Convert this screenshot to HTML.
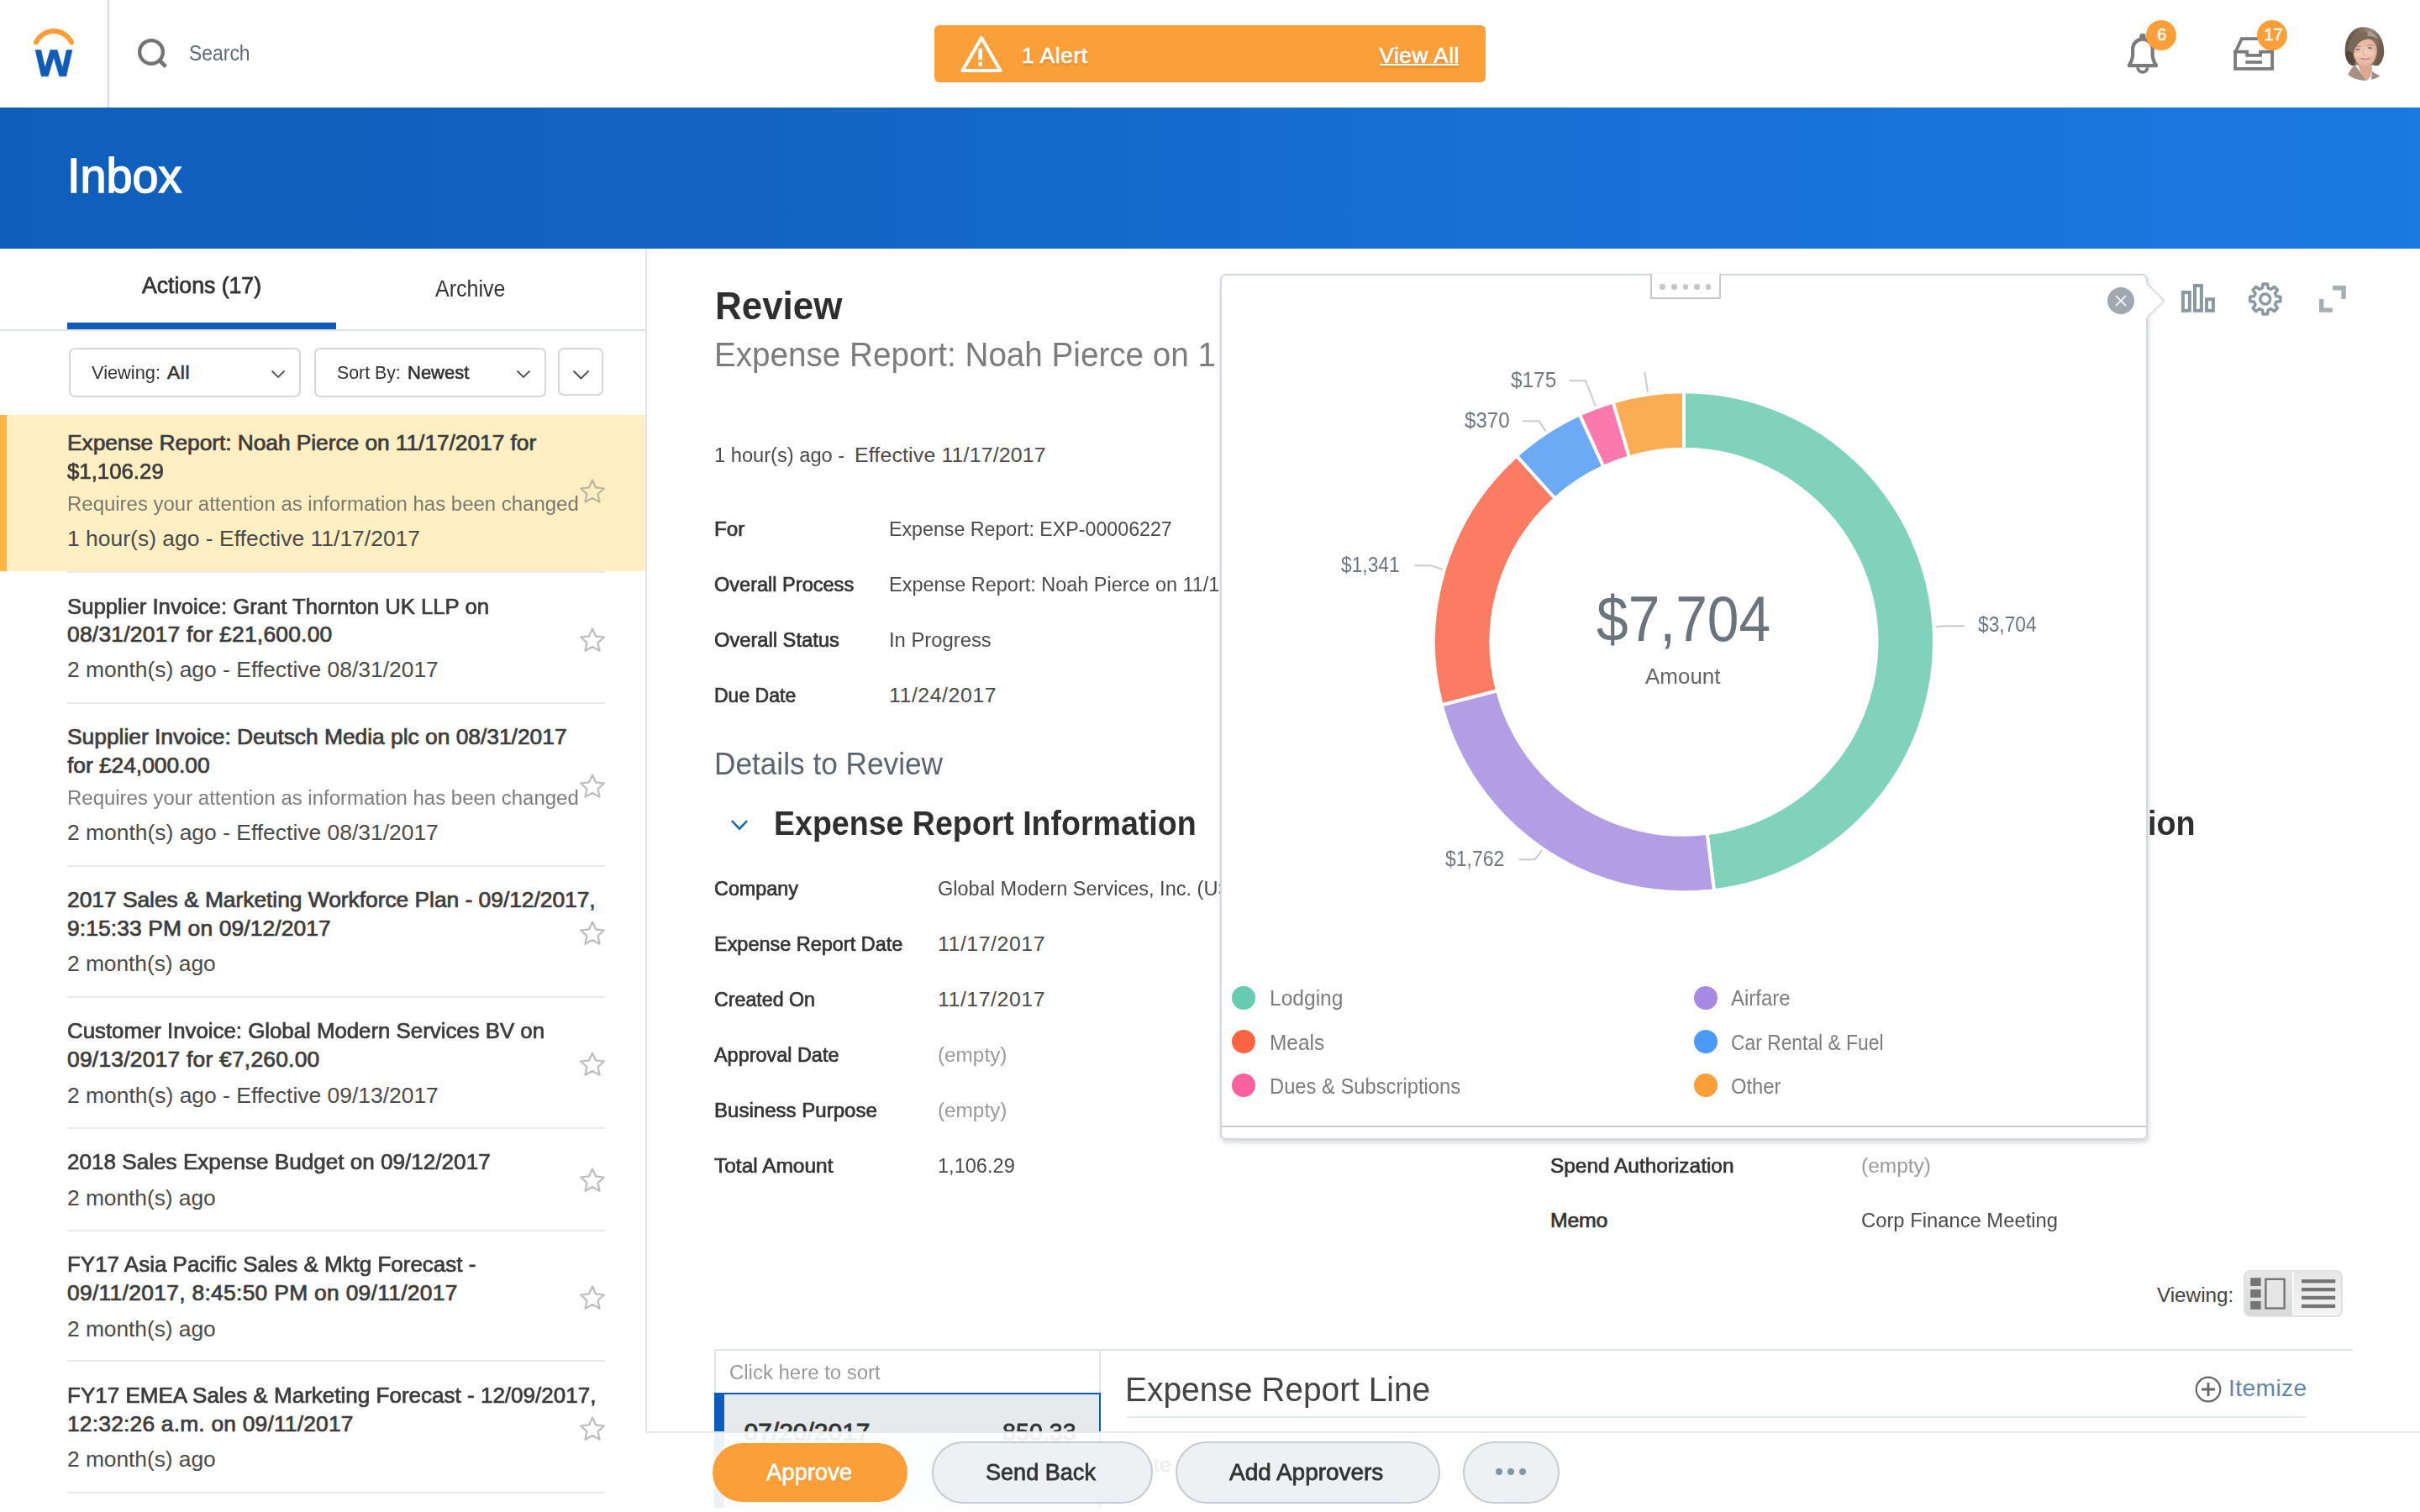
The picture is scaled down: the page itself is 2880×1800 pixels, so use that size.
<!DOCTYPE html>
<html><head><meta charset="utf-8"><title>Inbox</title>
<style>
html,body{margin:0;padding:0;}
body{width:2880px;height:1800px;position:relative;overflow:hidden;background:#fff;font-family:"Liberation Sans",sans-serif;}
.t{position:absolute;white-space:nowrap;transform-origin:0 0;font-family:"Liberation Sans",sans-serif;}
svg{overflow:visible}
</style></head><body>
<div style="position:absolute;left:0px;top:0px;width:2880px;height:128px;background:#fff;"></div>
<div style="position:absolute;left:128px;top:0px;width:2px;height:128px;background:#d3dbe0;"></div>
<svg style="position:absolute;left:36px;top:30px;" width="60" height="66" viewBox="0 0 60 66"><path d="M6.9 20.3 A23.4 23.4 0 0 1 49 20.3" fill="none" stroke="#fb9d35" stroke-width="6" stroke-linecap="round"/><path d="M6.06 29.57 L12.75 29.57 L17.62 50.7 L23.9 29.57 L32.08 29.57 L38.36 50.7 L43.23 29.57 L49.92 29.57 L42.74 60.79 L34.68 60.79 L27.99 38.3 L21.3 60.79 L13.24 60.79 Z" fill="#0f5cb8" stroke="#0f5cb8" stroke-width="0.6" stroke-linejoin="round"/></svg>
<svg style="position:absolute;left:160px;top:42px;" width="44" height="44" viewBox="0 0 44 44"><circle cx="20" cy="19.9" r="13.85" fill="none" stroke="#747474" stroke-width="4.3"/><path d="M29.6 29.5 L37.2 37.3" stroke="#747474" stroke-width="4.7"/></svg>
<span class="t" style="left:224.7px;top:50.8px;font-size:25.87px;line-height:25.87px;color:#5e6a74;transform:scaleX(0.8857);">Search</span>
<div style="position:absolute;left:1112px;top:30px;width:656px;height:68px;background:#fb9f38;border-radius:6px;"></div>
<svg style="position:absolute;left:1140px;top:38px;" width="56" height="52" viewBox="0 0 56 52"><path d="M28 7 L50.5 46 L5.5 46 Z" fill="none" stroke="#fff" stroke-width="4.1" stroke-linejoin="round"/><rect x="24.4" y="19.6" width="4.6" height="13.8" fill="#fff"/><rect x="24.4" y="36" width="4.6" height="4.4" fill="#fff"/></svg>
<span class="t" style="left:1216.0px;top:52.6px;font-size:26.08px;line-height:26.08px;color:#fff;letter-spacing:0.697px;-webkit-text-stroke:0.73px #fff;text-shadow:0 2px 3px rgba(0,0,0,.2);">1 Alert</span>
<span class="t" style="left:1641.5px;top:52.6px;font-size:26.08px;line-height:26.08px;color:#fff;letter-spacing:0.567px;-webkit-text-stroke:0.73px #fff;text-shadow:0 2px 3px rgba(0,0,0,.2);">View All</span>
<div style="position:absolute;left:1642.2px;top:76.2px;width:93.8px;height:2px;background:#fff;box-shadow:0 2px 3px rgba(0,0,0,.18);"></div>
<svg style="position:absolute;left:2526px;top:34px;" width="50" height="60" viewBox="0 0 50 60"><path d="M12.1 24.4 A11.8 11.8 0 0 1 35.7 24.4 L35.7 31 C35.7 36.5 37.3 39.5 40 44.1 L7.8 44.1 C10.5 39.5 12.1 36.5 12.1 31 Z" fill="none" stroke="#7b7b7b" stroke-width="4.2" stroke-linejoin="round"/><circle cx="23.9" cy="9.6" r="3.8" fill="#7b7b7b"/><path d="M18.2 46.2 A5.7 5.7 0 0 0 29.6 46.2" fill="none" stroke="#7b7b7b" stroke-width="3.8"/></svg>
<div style="position:absolute;left:2554.2px;top:23.7px;width:36px;height:36px;background:#fb9f38;border-radius:50%;"></div>
<span class="t" style="left:2567.3px;top:32.3px;font-size:19.66px;line-height:19.66px;color:#fff;-webkit-text-stroke:0.55px #fff;">6</span>
<svg style="position:absolute;left:2654px;top:40px;" width="56" height="48" viewBox="0 0 56 48"><path d="M6.1 21.7 L6.1 41.8 L50.2 41.8 L50.2 21.7" fill="none" stroke="#7b7b7b" stroke-width="3.8"/><path d="M6.1 22.5 L13.8 6.1 L42.5 6.1 L50.2 22.5" fill="none" stroke="#7b7b7b" stroke-width="3.8" stroke-linejoin="miter"/><path d="M4.2 21.7 L20.2 21.7 L20.2 25.8 L36.1 25.8 L36.1 21.7 L52.1 21.7" fill="none" stroke="#7b7b7b" stroke-width="3.8"/><path d="M18.3 34 L38 34" stroke="#7b7b7b" stroke-width="3.7"/></svg>
<div style="position:absolute;left:2686.2px;top:23.7px;width:36px;height:36px;background:#fb9f38;border-radius:50%;"></div>
<span class="t" style="left:2694.6px;top:32.3px;font-size:19.66px;line-height:19.66px;color:#fff;letter-spacing:0.335px;-webkit-text-stroke:0.55px #fff;">17</span>
<svg style="position:absolute;left:2782px;top:28px;" width="64" height="72" viewBox="0 0 64 72"><defs><clipPath id="av"><circle cx="32.3" cy="35.5" r="32.4"/></clipPath><filter id="bl" x="-10%" y="-10%" width="120%" height="120%"><feGaussianBlur stdDeviation="0.7"/></filter><linearGradient id="hg" x1="0" y1="0" x2="1" y2="0.3"><stop offset="0" stop-color="#54443a"/><stop offset="0.35" stop-color="#7d6b59"/><stop offset="0.62" stop-color="#9a8c7c"/><stop offset="1" stop-color="#6e5c4c"/></linearGradient><radialGradient id="fg" cx="0.5" cy="0.5" r="0.6"><stop offset="0" stop-color="#f3cfbd"/><stop offset="0.7" stop-color="#e7b7a0"/><stop offset="1" stop-color="#d49d86"/></radialGradient></defs><g clip-path="url(#av)" filter="url(#bl)"><path d="M8 40 L20 49 L24 52 L40 52 L44 58 L62 40 L62 72 L2 72 Z" fill="#fff"/><path d="M10 66 C12 60 15 56 17.5 52 L21 50 C25 55 30 62 35 68 L34 72 L8 72 Z" fill="#a89088"/><path d="M41 57 C44 59 48 61 51 63 L46 70 L40 68 Z" fill="#a38b82"/><path d="M24 48 C25 54 28 60 34 68 C38 66 40 62 41 57 L40 46 Z" fill="#dca88f"/><path d="M31 4.2 C19 3.8 10.5 14 9 28 C7.6 38 11 46 16 49.5 C18.5 51 21 51 22.5 49.5 L43 49.5 C45 51 48.5 50.5 50 48.5 C54 44 55.6 38 55.2 32 C54.5 16 46 4.8 31 4.2Z" fill="url(#hg)"/><path d="M9.2 34 C9 42 12 48 17 50 C20 50.6 21.5 48 21 44 C19 40 18 36 18.5 31 Z" fill="#4a3a30" opacity="0.75"/><path d="M18.2 33 C18 24 23 18.5 31 17.2 C40 17 46.8 23 46.8 32 C46.8 41 41 51.5 33 51.8 C25 52 18.6 42 18.2 33Z" fill="url(#fg)"/><path d="M13 30 C13 16 24 8 38 11 C44 12.5 48 17 49.5 23 C45 18.5 39 17.5 33 19 C25 21 20.5 27 19 36 C16 35 13.5 33 13 30Z" fill="#7a6856"/><path d="M36 9.5 C41 10 45.5 13.5 47.5 18.5 C43.5 15.5 39.5 14.5 35.5 15Z" fill="#b3a89c" opacity="0.85"/><ellipse cx="24" cy="30.9" rx="2.5" ry="1.1" fill="#6f6273" opacity="0.8"/><ellipse cx="38.4" cy="29.2" rx="2.6" ry="1.1" fill="#6f6273" opacity="0.8"/><path d="M20.5 28.3 C23 26.8 26 26.9 28 27.8 M34.5 26.6 C37 25.3 40.5 25.3 42.8 26.8" stroke="#8a6f60" stroke-width="0.9" fill="none" opacity="0.8"/><path d="M31 30 C30.5 34 30 36 30.8 37.5 C32 38.3 34 38.2 35 37.3" stroke="#cf9a82" stroke-width="1" fill="none" opacity="0.7"/><ellipse cx="23.5" cy="37" rx="3.6" ry="2.6" fill="#f6d9cd" opacity="0.45"/><ellipse cx="40.5" cy="35.5" rx="3.4" ry="2.5" fill="#f6d9cd" opacity="0.45"/><path d="M26.3 40.8 C29.5 44.6 36.5 44.4 39.6 40.2 C35.5 41.6 30.5 41.9 26.3 40.8Z" fill="#c56a86"/><path d="M28 41.4 C31 42.4 35 42.2 38 41 C35 42.9 31 43.1 28 41.4Z" fill="#f1dfe2" opacity="0.8"/></g></svg>
<div style="position:absolute;left:0px;top:128px;width:2880px;height:168px;background:linear-gradient(90deg,#0f5ebb 0%,#1263c3 30%,#176fd3 60%,#1a79e2 100%);"></div>
<span class="t" style="left:80.2px;top:182.3px;font-size:56.51px;line-height:56.51px;color:#fff;transform:scaleX(0.9871);-webkit-text-stroke:1.5px #fff;">Inbox</span>
<div style="position:absolute;left:768px;top:296px;width:2px;height:1409px;background:#dfe4e8;"></div>
<span class="t" style="left:168.6px;top:326.5px;font-size:26.91px;line-height:26.91px;color:#333;transform:scaleX(0.9891);-webkit-text-stroke:0.75px #333;">Actions (17)</span>
<span class="t" style="left:518.0px;top:330.1px;font-size:27.43px;line-height:27.43px;color:#333;transform:scaleX(0.9131);">Archive</span>
<div style="position:absolute;left:0px;top:392px;width:768px;height:2px;background:#dde2e6;"></div>
<div style="position:absolute;left:80px;top:384px;width:320px;height:8px;background:#0f5cb8;"></div>
<div style="position:absolute;left:82px;top:414px;width:276px;height:59px;box-sizing:border-box;border:2px solid #d3d7da;border-radius:7px;background:#fff;"></div>
<div style="position:absolute;left:374px;top:414px;width:276px;height:59px;box-sizing:border-box;border:2px solid #d3d7da;border-radius:7px;background:#fff;"></div>
<div style="position:absolute;left:664px;top:414px;width:54px;height:57px;box-sizing:border-box;border:2px solid #d3d7da;border-radius:7px;background:#fff;"></div>
<span class="t" style="left:108.5px;top:431.6px;font-size:22.77px;line-height:22.77px;color:#333;transform:scaleX(0.9574);">Viewing:</span>
<span class="t" style="left:199.0px;top:431.6px;font-size:22.77px;line-height:22.77px;color:#333;letter-spacing:0.603px;-webkit-text-stroke:0.64px #333;">All</span>
<span class="t" style="left:400.5px;top:431.6px;font-size:22.77px;line-height:22.77px;color:#333;transform:scaleX(0.9361);">Sort By:</span>
<span class="t" style="left:484.5px;top:431.6px;font-size:22.77px;line-height:22.77px;color:#333;transform:scaleX(0.9663);-webkit-text-stroke:0.64px #333;">Newest</span>
<svg style="position:absolute;left:322px;top:440px;" width="18" height="11" viewBox="0 0 18 11"><path d="M1.5 1.5 L9 9 L16.5 1.5" fill="none" stroke="#555" stroke-width="1.9"/></svg>
<svg style="position:absolute;left:614px;top:440px;" width="18" height="11" viewBox="0 0 18 11"><path d="M1.5 1.5 L9 9 L16.5 1.5" fill="none" stroke="#555" stroke-width="1.9"/></svg>
<svg style="position:absolute;left:680.5px;top:439.5px;" width="21" height="13" viewBox="0 0 21 13"><path d="M1.5 1.5 L10.5 10.5 L19.5 1.5" fill="none" stroke="#555" stroke-width="2"/></svg>
<div style="position:absolute;left:0px;top:494px;width:768px;height:186px;background:#ffefc3;"></div>
<div style="position:absolute;left:0px;top:494px;width:8px;height:186px;background:#fdb447;"></div>
<span class="t" style="left:80.0px;top:514.1px;font-size:26.39px;line-height:26.39px;color:#3c3c3c;letter-spacing:-0.066px;-webkit-text-stroke:0.74px #3c3c3c;">Expense Report: Noah Pierce on 11/17/2017 for</span>
<span class="t" style="left:80.0px;top:547.9px;font-size:26.39px;line-height:26.39px;color:#3c3c3c;transform:scaleX(0.9777);-webkit-text-stroke:0.74px #3c3c3c;">$1,106.29</span>
<span class="t" style="left:80.0px;top:588.1px;font-size:24.32px;line-height:24.32px;color:#7b786f;transform:scaleX(0.9855);">Requires your attention as information has been changed</span>
<span class="t" style="left:80.0px;top:628.4px;font-size:26.39px;line-height:26.39px;color:#4a4a4a;letter-spacing:0.047px;">1 hour(s) ago - Effective 11/17/2017</span>
<svg style="position:absolute;left:684.9px;top:566.3943px;" width="40" height="40" viewBox="0 0 40 40"><path d="M20.00 5.40 L24.03 14.45 L33.89 15.49 L26.53 22.12 L28.58 31.81 L20.00 26.86 L11.42 31.81 L13.47 22.12 L6.11 15.49 L15.97 14.45 Z" fill="none" stroke="rgba(135,135,135,0.55)" stroke-width="2.2" stroke-linejoin="round"/></svg>
<div style="position:absolute;left:80px;top:680px;width:640px;height:2px;background:#e9ebec;"></div>
<span class="t" style="left:80.0px;top:708.6px;font-size:26.39px;line-height:26.39px;color:#3c3c3c;transform:scaleX(0.9745);-webkit-text-stroke:0.74px #3c3c3c;">Supplier Invoice: Grant Thornton UK LLP on</span>
<span class="t" style="left:80.0px;top:742.3px;font-size:26.39px;line-height:26.39px;color:#3c3c3c;letter-spacing:0.243px;-webkit-text-stroke:0.74px #3c3c3c;">08/31/2017 for £21,600.00</span>
<span class="t" style="left:80.0px;top:784.0px;font-size:26.39px;line-height:26.39px;color:#4a4a4a;letter-spacing:0.026px;">2 month(s) ago - Effective 08/31/2017</span>
<svg style="position:absolute;left:684.9px;top:743.0943000000001px;" width="40" height="40" viewBox="0 0 40 40"><path d="M20.00 5.40 L24.03 14.45 L33.89 15.49 L26.53 22.12 L28.58 31.81 L20.00 26.86 L11.42 31.81 L13.47 22.12 L6.11 15.49 L15.97 14.45 Z" fill="none" stroke="rgba(135,135,135,0.55)" stroke-width="2.2" stroke-linejoin="round"/></svg>
<div style="position:absolute;left:80px;top:836px;width:640px;height:2px;background:#e9ebec;"></div>
<span class="t" style="left:80.0px;top:864.1px;font-size:26.39px;line-height:26.39px;color:#3c3c3c;letter-spacing:-0.015px;-webkit-text-stroke:0.74px #3c3c3c;">Supplier Invoice: Deutsch Media plc on 08/31/2017</span>
<span class="t" style="left:80.0px;top:898.1px;font-size:26.39px;line-height:26.39px;color:#3c3c3c;letter-spacing:-0.038px;-webkit-text-stroke:0.74px #3c3c3c;">for £24,000.00</span>
<span class="t" style="left:80.0px;top:938.3px;font-size:24.32px;line-height:24.32px;color:#7d7d7d;transform:scaleX(0.9855);">Requires your attention as information has been changed</span>
<span class="t" style="left:80.0px;top:977.6px;font-size:26.39px;line-height:26.39px;color:#4a4a4a;letter-spacing:0.026px;">2 month(s) ago - Effective 08/31/2017</span>
<svg style="position:absolute;left:684.9px;top:916.8943px;" width="40" height="40" viewBox="0 0 40 40"><path d="M20.00 5.40 L24.03 14.45 L33.89 15.49 L26.53 22.12 L28.58 31.81 L20.00 26.86 L11.42 31.81 L13.47 22.12 L6.11 15.49 L15.97 14.45 Z" fill="none" stroke="rgba(135,135,135,0.55)" stroke-width="2.2" stroke-linejoin="round"/></svg>
<div style="position:absolute;left:80px;top:1030px;width:640px;height:2px;background:#e9ebec;"></div>
<span class="t" style="left:80.0px;top:1057.7px;font-size:26.39px;line-height:26.39px;color:#3c3c3c;letter-spacing:-0.025px;-webkit-text-stroke:0.74px #3c3c3c;">2017 Sales &amp; Marketing Workforce Plan - 09/12/2017,</span>
<span class="t" style="left:80.0px;top:1092.1px;font-size:26.39px;line-height:26.39px;color:#3c3c3c;letter-spacing:0.126px;-webkit-text-stroke:0.74px #3c3c3c;">9:15:33 PM on 09/12/2017</span>
<span class="t" style="left:80.0px;top:1134.3px;font-size:26.39px;line-height:26.39px;color:#4a4a4a;letter-spacing:-0.054px;">2 month(s) ago</span>
<svg style="position:absolute;left:684.9px;top:1092.3943px;" width="40" height="40" viewBox="0 0 40 40"><path d="M20.00 5.40 L24.03 14.45 L33.89 15.49 L26.53 22.12 L28.58 31.81 L20.00 26.86 L11.42 31.81 L13.47 22.12 L6.11 15.49 L15.97 14.45 Z" fill="none" stroke="rgba(135,135,135,0.55)" stroke-width="2.2" stroke-linejoin="round"/></svg>
<div style="position:absolute;left:80px;top:1186px;width:640px;height:2px;background:#e9ebec;"></div>
<span class="t" style="left:80.0px;top:1213.7px;font-size:26.39px;line-height:26.39px;color:#3c3c3c;transform:scaleX(0.9785);-webkit-text-stroke:0.74px #3c3c3c;">Customer Invoice: Global Modern Services BV on</span>
<span class="t" style="left:80.0px;top:1247.7px;font-size:26.39px;line-height:26.39px;color:#3c3c3c;letter-spacing:0.238px;-webkit-text-stroke:0.74px #3c3c3c;">09/13/2017 for €7,260.00</span>
<span class="t" style="left:80.0px;top:1290.7px;font-size:26.39px;line-height:26.39px;color:#4a4a4a;letter-spacing:0.026px;">2 month(s) ago - Effective 09/13/2017</span>
<svg style="position:absolute;left:684.9px;top:1248.3943px;" width="40" height="40" viewBox="0 0 40 40"><path d="M20.00 5.40 L24.03 14.45 L33.89 15.49 L26.53 22.12 L28.58 31.81 L20.00 26.86 L11.42 31.81 L13.47 22.12 L6.11 15.49 L15.97 14.45 Z" fill="none" stroke="rgba(135,135,135,0.55)" stroke-width="2.2" stroke-linejoin="round"/></svg>
<div style="position:absolute;left:80px;top:1341.5px;width:640px;height:2px;background:#e9ebec;"></div>
<span class="t" style="left:80.0px;top:1369.5px;font-size:26.39px;line-height:26.39px;color:#3c3c3c;transform:scaleX(0.9898);-webkit-text-stroke:0.74px #3c3c3c;">2018 Sales Expense Budget on 09/12/2017</span>
<span class="t" style="left:80.0px;top:1412.7px;font-size:26.39px;line-height:26.39px;color:#4a4a4a;letter-spacing:-0.054px;">2 month(s) ago</span>
<svg style="position:absolute;left:684.9px;top:1386.1942999999999px;" width="40" height="40" viewBox="0 0 40 40"><path d="M20.00 5.40 L24.03 14.45 L33.89 15.49 L26.53 22.12 L28.58 31.81 L20.00 26.86 L11.42 31.81 L13.47 22.12 L6.11 15.49 L15.97 14.45 Z" fill="none" stroke="rgba(135,135,135,0.55)" stroke-width="2.2" stroke-linejoin="round"/></svg>
<div style="position:absolute;left:80px;top:1463.5px;width:640px;height:2px;background:#e9ebec;"></div>
<span class="t" style="left:80.0px;top:1491.6px;font-size:26.39px;line-height:26.39px;color:#3c3c3c;transform:scaleX(0.9845);-webkit-text-stroke:0.74px #3c3c3c;">FY17 Asia Pacific Sales &amp; Mktg Forecast -</span>
<span class="t" style="left:80.0px;top:1526.0px;font-size:26.39px;line-height:26.39px;color:#3c3c3c;letter-spacing:0.310px;-webkit-text-stroke:0.74px #3c3c3c;">09/11/2017, 8:45:50 PM on 09/11/2017</span>
<span class="t" style="left:80.0px;top:1568.5px;font-size:26.39px;line-height:26.39px;color:#4a4a4a;letter-spacing:-0.054px;">2 month(s) ago</span>
<svg style="position:absolute;left:684.9px;top:1526.3943px;" width="40" height="40" viewBox="0 0 40 40"><path d="M20.00 5.40 L24.03 14.45 L33.89 15.49 L26.53 22.12 L28.58 31.81 L20.00 26.86 L11.42 31.81 L13.47 22.12 L6.11 15.49 L15.97 14.45 Z" fill="none" stroke="rgba(135,135,135,0.55)" stroke-width="2.2" stroke-linejoin="round"/></svg>
<div style="position:absolute;left:80px;top:1619.4px;width:640px;height:2px;background:#e9ebec;"></div>
<span class="t" style="left:80.0px;top:1647.7px;font-size:26.39px;line-height:26.39px;color:#3c3c3c;transform:scaleX(0.9870);-webkit-text-stroke:0.74px #3c3c3c;">FY17 EMEA Sales &amp; Marketing Forecast - 12/09/2017,</span>
<span class="t" style="left:80.0px;top:1681.7px;font-size:26.39px;line-height:26.39px;color:#3c3c3c;letter-spacing:0.198px;-webkit-text-stroke:0.74px #3c3c3c;">12:32:26 a.m. on 09/11/2017</span>
<span class="t" style="left:80.0px;top:1724.2px;font-size:26.39px;line-height:26.39px;color:#4a4a4a;letter-spacing:-0.054px;">2 month(s) ago</span>
<svg style="position:absolute;left:684.9px;top:1682.1942999999999px;" width="40" height="40" viewBox="0 0 40 40"><path d="M20.00 5.40 L24.03 14.45 L33.89 15.49 L26.53 22.12 L28.58 31.81 L20.00 26.86 L11.42 31.81 L13.47 22.12 L6.11 15.49 L15.97 14.45 Z" fill="none" stroke="rgba(135,135,135,0.55)" stroke-width="2.2" stroke-linejoin="round"/></svg>
<div style="position:absolute;left:80px;top:1775.7px;width:640px;height:2px;background:#e9ebec;"></div>
<span class="t" style="left:850.6px;top:340.4px;font-size:47.09px;line-height:47.09px;color:#2f2f2f;font-weight:bold;transform:scaleX(0.9335);">Review</span>
<div style="position:absolute;left:840px;top:380px;width:613px;height:90px;overflow:hidden;">
<span class="t" style="left:10.0px;top:22.8px;font-size:39.95px;line-height:39.95px;color:#7c7c7c;transform:scaleX(0.9673);">Expense Report: Noah Pierce on 1</span>
</div>
<span class="t" style="left:850.0px;top:529.9px;font-size:24.84px;line-height:24.84px;color:#4a4a4a;transform:scaleX(0.9527);">1 hour(s) ago -</span>
<span class="t" style="left:1017.0px;top:529.9px;font-size:24.84px;line-height:24.84px;color:#4a4a4a;letter-spacing:0.181px;">Effective 11/17/2017</span>
<span class="t" style="left:850.0px;top:617.9px;font-size:24.84px;line-height:24.84px;color:#333;transform:scaleX(0.9777);-webkit-text-stroke:0.70px #333;">For</span>
<span class="t" style="left:1058.0px;top:617.9px;font-size:24.84px;line-height:24.84px;color:#4a4a4a;transform:scaleX(0.9348);">Expense Report: EXP-00006227</span>
<span class="t" style="left:850.0px;top:683.9px;font-size:24.84px;line-height:24.84px;color:#333;transform:scaleX(0.9482);-webkit-text-stroke:0.70px #333;">Overall Process</span>
<div style="position:absolute;left:1050px;top:670px;width:403px;height:50px;overflow:hidden;">
<span class="t" style="left:8.0px;top:13.9px;font-size:24.84px;line-height:24.84px;color:#4a4a4a;transform:scaleX(0.9449);">Expense Report: Noah Pierce on 11/1</span>
</div>
<span class="t" style="left:850.0px;top:749.7px;font-size:24.84px;line-height:24.84px;color:#333;transform:scaleX(0.9538);-webkit-text-stroke:0.70px #333;">Overall Status</span>
<span class="t" style="left:1058.0px;top:749.7px;font-size:24.84px;line-height:24.84px;color:#4a4a4a;transform:scaleX(0.9592);">In Progress</span>
<span class="t" style="left:850.0px;top:815.6px;font-size:24.84px;line-height:24.84px;color:#333;transform:scaleX(0.9269);-webkit-text-stroke:0.70px #333;">Due Date</span>
<span class="t" style="left:1058.0px;top:815.6px;font-size:24.84px;line-height:24.84px;color:#4a4a4a;letter-spacing:0.560px;">11/24/2017</span>
<span class="t" style="left:850.0px;top:892.4px;font-size:36.74px;line-height:36.74px;color:#5a6570;transform:scaleX(0.9585);">Details to Review</span>
<svg style="position:absolute;left:866px;top:973px;" width="28" height="18" viewBox="0 0 28 18"><path d="M4.8 4 L14 13.7 L23.2 4" fill="none" stroke="#0b62c8" stroke-width="2.5"/></svg>
<span class="t" style="left:921.0px;top:960.3px;font-size:40.88px;line-height:40.88px;color:#2f2f2f;font-weight:bold;transform:scaleX(0.9182);">Expense Report Information</span>
<span class="t" style="left:2555.8px;top:960.3px;font-size:40.88px;line-height:40.88px;color:#2f2f2f;font-weight:bold;transform:scaleX(0.9231);">ion</span>
<span class="t" style="left:850.0px;top:1046.2px;font-size:24.84px;line-height:24.84px;color:#333;transform:scaleX(0.9412);-webkit-text-stroke:0.70px #333;">Company</span>
<div style="position:absolute;left:1100px;top:1032px;width:353px;height:50px;overflow:hidden;">
<span class="t" style="left:16.0px;top:14.2px;font-size:24.84px;line-height:24.84px;color:#4a4a4a;transform:scaleX(0.9475);">Global Modern Services, Inc. (USA)</span>
</div>
<span class="t" style="left:850.0px;top:1111.9px;font-size:24.84px;line-height:24.84px;color:#333;transform:scaleX(0.9447);-webkit-text-stroke:0.70px #333;">Expense Report Date</span>
<span class="t" style="left:1116.0px;top:1111.9px;font-size:24.84px;line-height:24.84px;color:#4a4a4a;letter-spacing:0.560px;">11/17/2017</span>
<span class="t" style="left:850.0px;top:1177.9px;font-size:24.84px;line-height:24.84px;color:#333;transform:scaleX(0.9350);-webkit-text-stroke:0.70px #333;">Created On</span>
<span class="t" style="left:1116.0px;top:1177.9px;font-size:24.84px;line-height:24.84px;color:#4a4a4a;letter-spacing:0.560px;">11/17/2017</span>
<span class="t" style="left:850.0px;top:1243.9px;font-size:24.84px;line-height:24.84px;color:#333;transform:scaleX(0.9434);-webkit-text-stroke:0.70px #333;">Approval Date</span>
<span class="t" style="left:1116.0px;top:1243.9px;font-size:24.84px;line-height:24.84px;color:#9a9a9a;transform:scaleX(0.9790);">(empty)</span>
<span class="t" style="left:850.0px;top:1309.7px;font-size:24.84px;line-height:24.84px;color:#333;transform:scaleX(0.9685);-webkit-text-stroke:0.70px #333;">Business Purpose</span>
<span class="t" style="left:1116.0px;top:1309.7px;font-size:24.84px;line-height:24.84px;color:#9a9a9a;transform:scaleX(0.9790);">(empty)</span>
<span class="t" style="left:850.0px;top:1375.6px;font-size:24.84px;line-height:24.84px;color:#333;transform:scaleX(0.9856);-webkit-text-stroke:0.70px #333;">Total Amount</span>
<span class="t" style="left:1116.0px;top:1375.6px;font-size:24.84px;line-height:24.84px;color:#4a4a4a;transform:scaleX(0.9493);">1,106.29</span>
<span class="t" style="left:1845.0px;top:1375.6px;font-size:24.84px;line-height:24.84px;color:#333;transform:scaleX(0.9832);-webkit-text-stroke:0.70px #333;">Spend Authorization</span>
<span class="t" style="left:2215.0px;top:1375.6px;font-size:24.84px;line-height:24.84px;color:#9a9a9a;transform:scaleX(0.9852);">(empty)</span>
<span class="t" style="left:1845.0px;top:1441.2px;font-size:24.84px;line-height:24.84px;color:#333;letter-spacing:-0.183px;-webkit-text-stroke:0.70px #333;">Memo</span>
<span class="t" style="left:2215.0px;top:1441.2px;font-size:24.84px;line-height:24.84px;color:#4a4a4a;transform:scaleX(0.9579);">Corp Finance Meeting</span>
<span class="t" style="left:2567.0px;top:1530.0px;font-size:24.32px;line-height:24.32px;color:#444;letter-spacing:-0.033px;">Viewing:</span>
<div style="position:absolute;left:2670px;top:1512px;width:118px;height:56px;box-sizing:border-box;border:2px solid #e2e2e2;border-radius:8px;background:linear-gradient(#e7e7e7,#f3f4f4);overflow:hidden;"><div style="position:absolute;left:-2px;top:-2px;width:60px;height:58px;background:linear-gradient(#e8e8e8,#d6d8d9);"></div><div style="position:absolute;left:56px;top:-2px;width:2.4px;height:58px;background:#fafafa;"></div></div>
<svg style="position:absolute;left:2676px;top:1518px;" width="50" height="44" viewBox="0 0 50 44"><rect x="2.2" y="3.2" width="12.5" height="9.8" fill="#757575"/><rect x="2.2" y="17.1" width="12.5" height="9.6" fill="#757575"/><rect x="2.2" y="31" width="12.5" height="9.8" fill="#757575"/><rect x="20.4" y="4.8" width="22.2" height="34.7" fill="#e6e6e6" stroke="#757575" stroke-width="2.4"/></svg>
<svg style="position:absolute;left:2736px;top:1518px;" width="50" height="44" viewBox="0 0 50 44"><rect x="3" y="5.1" width="40.2" height="4.3" fill="#757575"/><rect x="3" y="15" width="40.2" height="4.3" fill="#757575"/><rect x="3" y="24.8" width="40.2" height="4.3" fill="#757575"/><rect x="3" y="34.8" width="40.2" height="4.3" fill="#757575"/></svg>
<div style="position:absolute;left:850px;top:1606px;width:1950px;height:2px;background:#dde4e8;"></div>
<div style="position:absolute;left:850px;top:1606px;width:2px;height:191px;background:#dde4e8;"></div>
<div style="position:absolute;left:850px;top:1795px;width:460px;height:2px;background:#dde4e8;"></div>
<div style="position:absolute;left:1308px;top:1606px;width:2px;height:191px;background:#dde4e8;"></div>
<span class="t" style="left:868.0px;top:1621.9px;font-size:24.84px;line-height:24.84px;color:#9a9a9a;transform:scaleX(0.9647);">Click here to sort</span>
<div style="position:absolute;left:850px;top:1658px;width:460px;height:137px;box-sizing:border-box;background:#e6eaec;border-top:2.5px solid #0b5cbf;border-right:2.5px solid #0b5cbf;border-left:12px solid #0b5cbf;"></div>
<span class="t" style="left:885.5px;top:1690.0px;font-size:30.01px;line-height:30.01px;color:#333;letter-spacing:-0.011px;-webkit-text-stroke:0.84px #333;">07/20/2017</span>
<span class="t" style="left:1192.5px;top:1690.0px;font-size:30.01px;line-height:30.01px;color:#333;transform:scaleX(0.9565);-webkit-text-stroke:0.84px #333;">850.33</span>
<span class="t" style="left:1339.0px;top:1633.5px;font-size:40.36px;line-height:40.36px;color:#444;transform:scaleX(0.9637);">Expense Report Line</span>
<div style="position:absolute;left:1341px;top:1686px;width:1403px;height:2px;background:#e2e8eb;"></div>
<svg style="position:absolute;left:2611px;top:1637px;" width="34" height="34" viewBox="0 0 34 34"><circle cx="17" cy="17" r="14.3" fill="none" stroke="#666" stroke-width="2.2"/><path d="M17 9 L17 25 M9 17 L25 17" stroke="#666" stroke-width="2.8"/></svg>
<span class="t" style="left:2652.0px;top:1638.7px;font-size:28.15px;line-height:28.15px;color:#5d87a9;letter-spacing:0.426px;">Itemize</span>
<span class="t" style="left:1341.0px;top:1731.9px;font-size:24.84px;line-height:24.84px;color:#333;-webkit-text-stroke:0.70px #333;">Date</span>
<span class="t" style="left:1585.0px;top:1731.9px;font-size:24.84px;line-height:24.84px;color:#444;">07/20/2017</span>
<svg style="position:absolute;left:2594px;top:336px;" width="44" height="38" viewBox="0 0 44 38"><rect x="3.9" y="12" width="7.9" height="21.8" fill="none" stroke="#8b999f" stroke-width="4"/><rect x="18" y="4" width="7.9" height="29.8" fill="none" stroke="#8b999f" stroke-width="4"/><rect x="32" y="20.2" width="7.9" height="13.6" fill="none" stroke="#8b999f" stroke-width="4"/></svg>
<svg style="position:absolute;left:2674px;top:334px;" width="44" height="44" viewBox="0 0 44 44"><path d="M19.07 3.91 L24.53 3.91 L25.16 8.82 L28.74 10.30 L32.66 7.27 L36.53 11.14 L33.50 15.06 L34.98 18.64 L39.89 19.27 L39.89 24.73 L34.98 25.36 L33.50 28.94 L36.53 32.86 L32.66 36.73 L28.74 33.70 L25.16 35.18 L24.53 40.09 L19.07 40.09 L18.44 35.18 L14.86 33.70 L10.94 36.73 L7.07 32.86 L10.10 28.94 L8.62 25.36 L3.71 24.73 L3.71 19.27 L8.62 18.64 L10.10 15.06 L7.07 11.14 L10.94 7.27 L14.86 10.30 L18.44 8.82 Z" fill="none" stroke="#8b999f" stroke-width="3.5" stroke-linejoin="round"/><circle cx="21.8" cy="22" r="6" fill="none" stroke="#8b999f" stroke-width="3.4"/></svg>
<svg style="position:absolute;left:2758px;top:338px;" width="36" height="36" viewBox="0 0 36 36"><path d="M18 4.7 L31.1 4.7 L31.1 18" fill="none" stroke="#a3afb5" stroke-width="5.4"/><path d="M4.7 18 L4.7 31.1 L18 31.1" fill="none" stroke="#a3afb5" stroke-width="5.4"/></svg>
<div style="position:absolute;left:1452px;top:326px;width:1104px;height:1031px;box-sizing:border-box;background:#fff;border:2px solid #d2d9de;border-radius:7px;box-shadow:1px 3px 6px rgba(90,100,110,.28);"></div>
<div style="position:absolute;left:1454px;top:1340px;width:1100px;height:2px;background:#c9cdd0;"></div>
<svg style="position:absolute;left:2552px;top:334px;" width="28" height="48" viewBox="0 0 28 48"><path d="M1 3 L3 3 L23.5 24 L3 45 L1 45 Z" fill="#fff"/><path d="M3 3.5 L23.5 24 L3 44.5" fill="none" stroke="#d9dce3" stroke-width="1.8"/></svg>
<div style="position:absolute;left:1964px;top:326px;width:84px;height:30px;box-sizing:border-box;border:2px solid #c9c9c9;border-top:none;background:#fff;"></div>
<div style="position:absolute;left:1975.4px;top:338.4px;width:6.6px;height:6.6px;background:#c6c6c6;border-radius:50%;"></div>
<div style="position:absolute;left:1989.1000000000001px;top:338.4px;width:6.6px;height:6.6px;background:#c6c6c6;border-radius:50%;"></div>
<div style="position:absolute;left:2002.7px;top:338.4px;width:6.6px;height:6.6px;background:#c6c6c6;border-radius:50%;"></div>
<div style="position:absolute;left:2016.1000000000001px;top:338.4px;width:6.6px;height:6.6px;background:#c6c6c6;border-radius:50%;"></div>
<div style="position:absolute;left:2029.5px;top:338.4px;width:6.6px;height:6.6px;background:#c6c6c6;border-radius:50%;"></div>
<svg style="position:absolute;left:2507px;top:341px;" width="34" height="34" viewBox="0 0 34 34"><circle cx="17" cy="17" r="16" fill="#a0a8b2"/><path d="M11 11 L23 23 M23 11 L11 23" stroke="#fff" stroke-width="1.7"/></svg>
<svg style="position:absolute;left:0px;top:0px;pointer-events:none;" width="2880" height="1800" viewBox="0 0 2880 1800"><path d="M1867.5 453.2 L1887 453.2 L1901 489" fill="none" stroke="#cbcbcb" stroke-width="2"/><path d="M1812 501.3 L1831.5 501.3 L1842 517" fill="none" stroke="#cbcbcb" stroke-width="2"/><path d="M1683.4 673.2 L1703 673.2 L1722 679.5" fill="none" stroke="#cbcbcb" stroke-width="2"/><path d="M1807.3 1023.2 L1826.6 1023.2 L1838.5 1007.5" fill="none" stroke="#cbcbcb" stroke-width="2"/><path d="M2298 746.3 L2318 745.2 L2338 745.2" fill="none" stroke="#cbcbcb" stroke-width="2"/><path d="M1957.5 442.8 L1961.6 472" fill="none" stroke="#cbcbcb" stroke-width="2"/><path d="M2004.00 466.30 A298 298 0 0 1 2039.88 1060.13 L2031.63 992.13 A229.5 229.5 0 0 0 2004.00 534.80 Z" fill="#80d3ba" stroke="#fff" stroke-width="4" stroke-linejoin="miter"/><path d="M2039.88 1060.13 A298 298 0 0 1 1715.60 839.31 L1781.89 822.07 A229.5 229.5 0 0 0 2031.63 992.13 Z" fill="#b39de5" stroke="#fff" stroke-width="4" stroke-linejoin="miter"/><path d="M1715.60 839.31 A298 298 0 0 1 1804.92 542.55 L1850.69 593.52 A229.5 229.5 0 0 0 1781.89 822.07 Z" fill="#fb7c62" stroke="#fff" stroke-width="4" stroke-linejoin="miter"/><path d="M1804.92 542.55 A298 298 0 0 1 1879.82 493.40 L1908.37 555.67 A229.5 229.5 0 0 0 1850.69 593.52 Z" fill="#6caaf6" stroke="#fff" stroke-width="4" stroke-linejoin="miter"/><path d="M1879.82 493.40 A298 298 0 0 1 1919.62 478.50 L1939.02 544.19 A229.5 229.5 0 0 0 1908.37 555.67 Z" fill="#fc79ad" stroke="#fff" stroke-width="4" stroke-linejoin="miter"/><path d="M1919.62 478.50 A298 298 0 0 1 2004.00 466.30 L2004.00 534.80 A229.5 229.5 0 0 0 1939.02 544.19 Z" fill="#fbad55" stroke="#fff" stroke-width="4" stroke-linejoin="miter"/></svg>
<span class="t" style="left:1798.0px;top:439.7px;font-size:25.87px;line-height:25.87px;color:#6e7780;transform:scaleX(0.9419);">$175</span>
<span class="t" style="left:1742.6px;top:488.0px;font-size:25.87px;line-height:25.87px;color:#6e7780;transform:scaleX(0.9309);">$370</span>
<span class="t" style="left:1596.0px;top:659.7px;font-size:25.87px;line-height:25.87px;color:#6e7780;transform:scaleX(0.8799);">$1,341</span>
<span class="t" style="left:1720.2px;top:1009.6px;font-size:25.87px;line-height:25.87px;color:#6e7780;transform:scaleX(0.8878);">$1,762</span>
<span class="t" style="left:2354.0px;top:731.2px;font-size:25.87px;line-height:25.87px;color:#6e7780;transform:scaleX(0.8804);">$3,704</span>
<span class="t" style="left:1900.0px;top:699.4px;font-size:76.59px;line-height:76.59px;color:#6a747d;transform:scaleX(0.8844);">$7,704</span>
<span class="t" style="left:1957.5px;top:792.2px;font-size:26.39px;line-height:26.39px;color:#666;transform:scaleX(0.9848);">Amount</span>
<div style="position:absolute;left:1465.8px;top:1173.9px;width:28px;height:28px;background:#67cbaf;border-radius:50%;"></div>
<span class="t" style="left:1510.6px;top:1176.4px;font-size:25.87px;line-height:25.87px;color:#7c7c7c;transform:scaleX(0.9497);">Lodging</span>
<div style="position:absolute;left:1465.8px;top:1226px;width:28px;height:28px;background:#fb6442;border-radius:50%;"></div>
<span class="t" style="left:1510.6px;top:1228.5px;font-size:25.87px;line-height:25.87px;color:#7c7c7c;transform:scaleX(0.9441);">Meals</span>
<div style="position:absolute;left:1465.8px;top:1278.3px;width:28px;height:28px;background:#fb609e;border-radius:50%;"></div>
<span class="t" style="left:1510.6px;top:1280.8px;font-size:25.87px;line-height:25.87px;color:#7c7c7c;transform:scaleX(0.9184);">Dues &amp; Subscriptions</span>
<div style="position:absolute;left:2015.6px;top:1173.9px;width:28px;height:28px;background:#a689e0;border-radius:50%;"></div>
<span class="t" style="left:2060.4px;top:1176.4px;font-size:25.87px;line-height:25.87px;color:#7c7c7c;transform:scaleX(0.9250);">Airfare</span>
<div style="position:absolute;left:2015.6px;top:1226px;width:28px;height:28px;background:#4b99f8;border-radius:50%;"></div>
<span class="t" style="left:2060.4px;top:1228.5px;font-size:25.87px;line-height:25.87px;color:#7c7c7c;transform:scaleX(0.8832);">Car Rental &amp; Fuel</span>
<div style="position:absolute;left:2015.6px;top:1278.3px;width:28px;height:28px;background:#fb9f38;border-radius:50%;"></div>
<span class="t" style="left:2060.4px;top:1280.8px;font-size:25.87px;line-height:25.87px;color:#7c7c7c;transform:scaleX(0.9188);">Other</span>
<div style="position:absolute;left:769px;top:1704px;width:2111px;height:96px;background:rgba(255,255,255,0.92);border-top:2px solid #e4e7e9;box-sizing:border-box;"></div>
<div style="position:absolute;left:848px;top:1718px;width:232px;height:70px;background:#fb9f38;border-radius:35px;"></div>
<span class="t" style="left:911.5px;top:1738.0px;font-size:28.46px;line-height:28.46px;color:#fff;transform:scaleX(0.9615);-webkit-text-stroke:0.80px #fff;text-shadow:0 1px 1px rgba(0,0,0,.12);">Approve</span>
<div style="position:absolute;left:1108.5px;top:1716px;width:263.5px;height:73.5px;box-sizing:border-box;background:rgba(236,240,242,0.96);border:2px solid #c3ccd1;border-radius:37px;"></div>
<div style="position:absolute;left:1398.5px;top:1716px;width:315px;height:73.5px;box-sizing:border-box;background:rgba(236,240,242,0.96);border:2px solid #c3ccd1;border-radius:37px;"></div>
<div style="position:absolute;left:1740.5px;top:1716px;width:115.5px;height:73.5px;box-sizing:border-box;background:rgba(236,240,242,0.96);border:2px solid #c3ccd1;border-radius:37px;"></div>
<span class="t" style="left:1173.0px;top:1738.0px;font-size:28.46px;line-height:28.46px;color:#333;transform:scaleX(0.9514);-webkit-text-stroke:0.80px #333;">Send Back</span>
<span class="t" style="left:1463.0px;top:1738.0px;font-size:28.46px;line-height:28.46px;color:#333;transform:scaleX(0.9822);-webkit-text-stroke:0.80px #333;">Add Approvers</span>
<div style="position:absolute;left:1780.1px;top:1748px;width:8px;height:8px;background:#8696a0;border-radius:50%;"></div>
<div style="position:absolute;left:1794px;top:1748px;width:8px;height:8px;background:#8696a0;border-radius:50%;"></div>
<div style="position:absolute;left:1807.9px;top:1748px;width:8px;height:8px;background:#8696a0;border-radius:50%;"></div>
</body></html>
